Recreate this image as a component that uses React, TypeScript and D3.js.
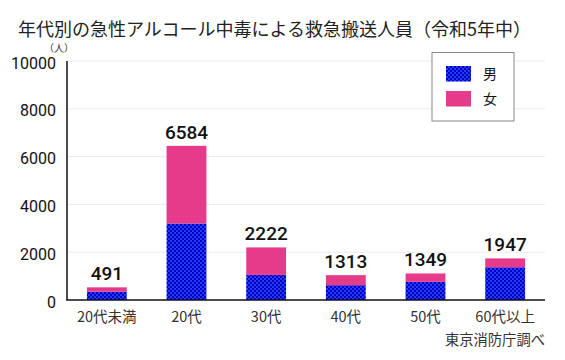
import React from "react";
import * as d3 from "d3";

const categories = ["20代未満", "20代", "30代", "40代", "50代", "60代以上"];
const male = [350, 3200, 1050, 620, 760, 1370];
const female = [180, 3250, 1150, 420, 350, 370];
const totalLabels = [491, 6584, 2222, 1313, 1349, 1947];
const yTicks = [0, 2000, 4000, 6000, 8000, 10000];
const seriesNames = ["男", "女"];

const W = 565;
const H = 360;
const left = 67;
const right = 545;
const top = 61;
const bottom = 300;

const PINK = "#e63a8a";
const FONT = "Roboto, 'Noto Sans CJK JP', sans-serif";
const JFONT = "'Noto Sans CJK JP', sans-serif";

export default function App() {
  const x = d3
    .scaleBand<string>()
    .domain(categories)
    .range([left, right])
    .paddingInner(0.5)
    .paddingOuter(0.25);
  const y = d3.scaleLinear().domain([0, 10000]).range([bottom, top]);

  const stack = d3
    .stack<any>()
    .keys(["male", "female"])(
      categories.map((c, i) => ({ cat: c, male: male[i], female: female[i] }))
    );

  return (
    <div style={{ position: "fixed", left: 0, top: 0 }}>
      <svg width={W} height={H} style={{ display: "block", background: "#fff" }}>
        <defs>
          <pattern id="check" width={4} height={4} patternUnits="userSpaceOnUse">
            <rect width={4} height={4} fill="#1f3bff" />
            <rect x={0} y={0} width={2} height={2} fill="#0000b8" />
            <rect x={2} y={2} width={2} height={2} fill="#0000b8" />
          </pattern>
        </defs>

        <text x={18} y={36} fontFamily={JFONT} fontSize={18} fill="#222">
          年代別の急性アルコール中毒による救急搬送人員（令和5年中）
        </text>
        <text x={59} y={52} textAnchor="middle" fontFamily={JFONT} fontSize={10} fill="#333">
          （人）
        </text>

        {yTicks.map((t) => (
          <g key={t}>
            {t > 0 && (
              <line x1={left} x2={right} y1={y(t)} y2={y(t)} stroke="#ebebeb" strokeWidth={1} />
            )}
            <text
              x={56}
              y={y(t) + 7.5}
              textAnchor="end"
              fontFamily={FONT}
              fontSize={16}
              fill="#111"
            >
              {t}
            </text>
          </g>
        ))}

        {stack.map((s, si) =>
          s.map((d, i) => (
            <rect
              key={si + "-" + i}
              x={x(categories[i])!}
              width={x.bandwidth()}
              y={y(d[1])}
              height={y(d[0]) - y(d[1])}
              fill={si === 0 ? "url(#check)" : PINK}
            />
          ))
        )}

        {categories.map((c, i) => (
          <text
            key={c}
            x={x(c)! + x.bandwidth() / 2}
            y={y(male[i] + female[i]) - 7}
            textAnchor="middle"
            fontFamily={FONT}
            fontSize={19}
            fontWeight={500}
            fill="#111"
          >
            {totalLabels[i]}
          </text>
        ))}

        <line x1={left} x2={left} y1={top} y2={bottom} stroke="#111" strokeWidth={1.5} />
        <line x1={left - 0.75} x2={right} y1={bottom} y2={bottom} stroke="#111" strokeWidth={1.5} />

        {categories.map((c) => (
          <text
            key={c}
            x={x(c)! + x.bandwidth() / 2}
            y={322}
            textAnchor="middle"
            fontFamily={JFONT}
            fontSize={14.5}
            fill="#333"
          >
            {c}
          </text>
        ))}

        <text x={545} y={345} textAnchor="end" fontFamily={JFONT} fontSize={14.3} fill="#333">
          東京消防庁調べ
        </text>

        <rect x={432} y={52.5} width={82} height={68.5} fill="#fff" stroke="#888" strokeWidth={1} />
        {seriesNames.map((n, i) => (
          <g key={n}>
            <rect
              x={446}
              y={66 + i * 25}
              width={25}
              height={15.5}
              fill={i === 0 ? "url(#check)" : PINK}
            />
            <text x={483} y={74 + i * 25 + 5} fontFamily={JFONT} fontSize={14} fill="#111">
              {n}
            </text>
          </g>
        ))}
      </svg>
    </div>
  );
}
